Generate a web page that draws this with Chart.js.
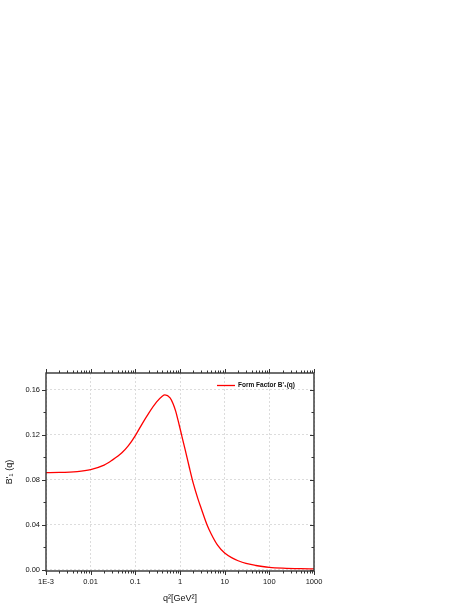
<!DOCTYPE html>
<html>
<head>
<meta charset="utf-8">
<script src="https://cdn.jsdelivr.net/npm/chart.js@4.4.1/dist/chart.umd.min.js"></script>
<style>
  html, body { margin: 0; padding: 0; background: #fff; }
  canvas { display: block; }
</style>
</head>
<body>
<canvas id="chartFormFactor" width="468" height="605"></canvas>
<script>
  // valores (q^2 en GeV^2, B'1(q))
  const q2Values = [0.001, 0.002, 0.005, 0.01, 0.02, 0.03, 0.05, 0.07, 0.1, 0.15, 0.2, 0.3, 0.4, 0.46,
    0.6, 0.7, 0.8, 0.9, 1, 1.1, 1.3, 1.6, 2, 2.5, 3, 4, 5, 7, 10, 15, 20, 30, 50, 70, 100, 200, 500, 1000];
  const bValues = [0.0866, 0.0867, 0.0875, 0.0893, 0.0932, 0.0975, 0.1042, 0.1105, 0.1195, 0.1315, 0.1395,
    0.1494, 0.1545, 0.1557, 0.1530, 0.1478, 0.1412, 0.1334, 0.1260, 0.1190, 0.1072, 0.0920, 0.0765,
    0.0637, 0.0545, 0.0405, 0.0320, 0.0218, 0.0150, 0.0105, 0.0082, 0.0058, 0.0040, 0.0031, 0.0024,
    0.0017, 0.0012, 0.0010];

  const xTicks = [0.001, 0.01, 0.1, 1, 10, 100, 1000];
  const xTickLabels = ["1E-3", "0.01", "0.1", "1", "10", "100", "1000"];
  const yTicks = [0, 0.04, 0.08, 0.12, 0.16];
  const yMinorTicks = [0.02, 0.06, 0.10, 0.14];

  const seriesLabel = "Form Factor B'\u2081(q)";
  const xTitle = "q\u00B2[GeV\u00B2]";
  const yTitle = "B'\u2081 (q)";

  const FONT = "'Liberation Sans', Arial, sans-serif";
  const RED = "#ff0000";

  // ejes del marco + ticks menores + leyenda
  const framePlugin = {
    id: "frame",
    afterDraw(chart) {
      const ctx = chart.ctx;
      const a = chart.chartArea;
      const xs = chart.scales.x, ys = chart.scales.y;
      ctx.save();
      ctx.strokeStyle = "#333";
      ctx.lineWidth = 1.4;
      ctx.strokeRect(a.left, a.top, a.right - a.left, a.bottom - a.top);

      ctx.lineWidth = 1;
      ctx.beginPath();
      // eje x: ticks mayores y menores
      for (let d = -3; d <= 3; d++) {
        for (let k = 1; k <= 9; k++) {
          const v = k * Math.pow(10, d);
          if (v > 1000.0001) break;
          const px = Math.round(xs.getPixelForValue(v)) + 0.5;
          const len = k === 1 ? 4 : 2.5;
          ctx.moveTo(px, a.bottom); ctx.lineTo(px, a.bottom + len);
          ctx.moveTo(px, a.top); ctx.lineTo(px, a.top - len);
        }
      }
      // eje y
      yTicks.forEach(v => {
        const py = Math.round(ys.getPixelForValue(v)) + 0.5;
        ctx.moveTo(a.left, py); ctx.lineTo(a.left - 4, py);
        ctx.moveTo(a.right, py); ctx.lineTo(a.right - 4, py);
      });
      yMinorTicks.forEach(v => {
        const py = Math.round(ys.getPixelForValue(v)) + 0.5;
        ctx.moveTo(a.left, py); ctx.lineTo(a.left - 2.5, py);
        ctx.moveTo(a.right, py); ctx.lineTo(a.right - 2.5, py);
      });
      ctx.stroke();

      // leyenda
      const ly = a.top + 12.5;
      ctx.strokeStyle = RED;
      ctx.lineWidth = 1.3;
      ctx.beginPath();
      ctx.moveTo(a.right - 97, ly); ctx.lineTo(a.right - 79, ly);
      ctx.stroke();
      ctx.fillStyle = "#111";
      ctx.font = "bold 6.5px " + FONT;
      ctx.textBaseline = "middle";
      ctx.fillText(seriesLabel, a.right - 76, ly);
      ctx.restore();
    }
  };

  new Chart(document.getElementById("chartFormFactor"), {
    type: "line",
    data: {
      datasets: [{
        label: seriesLabel,
        data: q2Values.map((q, i) => ({ x: q, y: bValues[i] })),
        borderColor: RED,
        borderWidth: 1.3,
        pointRadius: 0,
        fill: false,
        cubicInterpolationMode: "monotone"
      }]
    },
    options: {
      responsive: false,
      animation: false,
      layout: { padding: { left: 0, right: 154, top: 373, bottom: 0 } },
      plugins: { legend: { display: false }, tooltip: { enabled: false } },
      scales: {
        x: {
          type: "logarithmic",
          min: 0.001,
          max: 1000,
          afterFit(s) { s.height = 34; },
          afterBuildTicks(s) { s.ticks = xTicks.map(v => ({ value: v })); },
          ticks: {
            padding: 6,
            color: "#111",
            font: { family: FONT, size: 7.5 },
            maxRotation: 0,
            autoSkip: false,
            callback(v) { const i = xTicks.indexOf(v); return i >= 0 ? xTickLabels[i] : ""; }
          },
          grid: { color: "#dcdcdc", lineWidth: 1, drawTicks: false },
          border: { display: false, dash: [2, 2] },
          title: { display: true, text: xTitle, color: "#111", font: { family: FONT, size: 9 }, padding: { top: 0, bottom: 1 } }
        },
        y: {
          min: -0.0009,
          max: 0.1751,
          afterFit(s) { s.width = 46; },
          afterBuildTicks(s) { s.ticks = yTicks.map(v => ({ value: v })); },
          ticks: {
            padding: 6,
            color: "#111",
            font: { family: FONT, size: 7.5 },
            callback(v) { return v.toFixed(2); }
          },
          grid: { color: "#dcdcdc", lineWidth: 1, drawTicks: false },
          border: { display: false, dash: [2, 2] },
          title: { display: true, text: yTitle, color: "#111", font: { family: FONT, size: 9 }, padding: { top: 4, bottom: 0 } }
        }
      }
    },
    plugins: [framePlugin]
  });
</script>
</body>
</html>
